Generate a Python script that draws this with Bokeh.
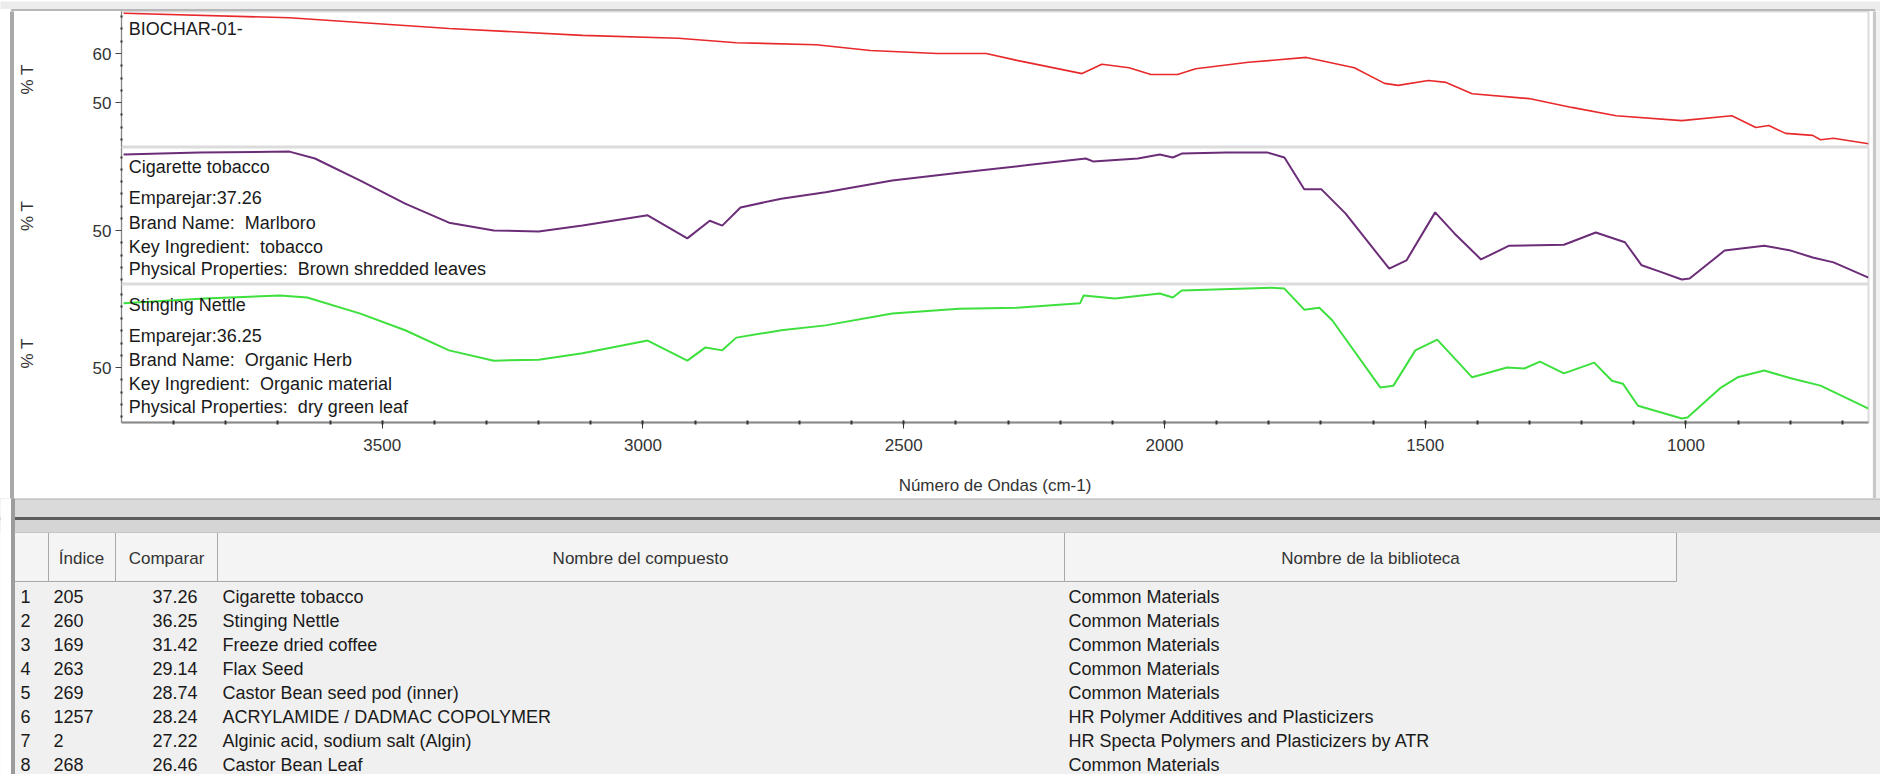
import numpy as np
from bokeh.plotting import figure
from bokeh.layouts import column, row
from bokeh.models import Range1d, FixedTicker, Label, ColumnDataSource
from bokeh.core.properties import value
from bokeh.embed import file_html
from bokeh.resources import INLINE

FONT = "Liberation Sans"
FS = "17px"
FT = "18px"
NB = "\u00a0"

# ---------------- spectra data (wavenumber cm-1, %T) ----------------
red_wn = [3996, 3678, 3372, 3116, 2932, 2821, 2668, 2564, 2436, 2342, 2283, 2158, 2120, 2068,
          2026, 1975, 1940, 1839, 1728, 1636, 1578, 1552, 1494, 1460, 1410, 1301, 1219, 1134,
          1008, 912, 866, 841, 809, 757, 742, 717, 650]
red_t = [68.2, 67.3, 65.1, 63.7, 63.1, 62.2, 61.8, 60.6, 60.0, 60.0, 58.6, 55.9, 57.8, 57.1,
         55.7, 55.7, 56.9, 58.2, 59.2, 57.1, 53.9, 53.5, 54.5, 54.1, 51.8, 50.8, 49.0, 47.3,
         46.3, 47.3, 44.9, 45.3, 43.7, 43.3, 42.4, 42.7, 41.6]

pur_wn = [3996, 3851, 3678, 3629, 3542, 3456, 3372, 3286, 3200, 3116,
          2991, 2915, 2872, 2848, 2813, 2735, 2650, 2522, 2394, 2266,
          2151, 2137, 2051, 2009, 1984, 1967, 1881, 1802, 1770, 1732,
          1699, 1653, 1569, 1536, 1481, 1444, 1393, 1339, 1234, 1173,
          1117, 1085, 1050, 1008, 993, 926, 850, 799, 757, 717, 650]
pur_t = [65.5, 65.9, 66.1, 64.7, 60.2, 55.5, 51.6, 50.0, 49.8, 51.0,
         53.1, 48.4, 52.0, 51.0, 54.7, 56.5, 57.8, 60.2, 61.8, 63.3,
         64.7, 64.1, 64.7, 65.5, 64.9, 65.7, 65.9, 65.9, 64.9, 58.4,
         58.4, 53.5, 42.2, 43.9, 53.7, 49.4, 44.1, 46.9, 47.1, 49.6,
         47.6, 42.9, 41.6, 40.0, 40.2, 45.9, 46.9, 45.9, 44.5, 43.5, 40.4]

grn_wn = [3996, 3841, 3696, 3644, 3542, 3456, 3372, 3286, 3200, 3116,
          2991, 2915, 2880, 2848, 2821, 2735, 2650, 2522, 2394, 2283,
          2162, 2155, 2095, 2009, 1984, 1967, 1795, 1770, 1732, 1703,
          1678, 1586, 1561, 1519, 1477, 1410, 1343, 1310, 1280, 1234,
          1176, 1142, 1121, 1092, 1008, 997, 933, 901, 850, 799, 742, 650]
grn_t = [63.1, 64.1, 64.7, 64.3, 61.0, 57.6, 53.5, 51.4, 51.6, 52.9,
         55.5, 51.4, 54.1, 53.5, 56.1, 57.6, 58.6, 61.0, 62.0, 62.2,
         63.1, 64.7, 64.1, 65.1, 64.3, 65.7, 66.3, 66.1, 61.8, 62.2,
         59.6, 45.9, 46.3, 53.5, 55.7, 48.0, 50.0, 49.8, 51.2, 48.8,
         51.0, 47.3, 46.7, 42.2, 39.6, 39.8, 45.9, 48.0, 49.4, 47.8, 46.3, 41.6]

x_ticks = [3500, 3000, 2500, 2000, 1500, 1000]
x_label = "Número de Ondas (cm-1)"
y_label = "% T"

panel1_text = ["BIOCHAR-01-"]
panel2_text = ["Cigarette tobacco", "Emparejar:37.26", "Brand Name:" + NB + " Marlboro",
               "Key Ingredient:" + NB + " tobacco",
               "Physical Properties:" + NB + " Brown shredded leaves"]
panel3_text = ["Stinging Nettle", "Emparejar:36.25", "Brand Name:" + NB + " Organic Herb",
               "Key Ingredient:" + NB + " Organic material",
               "Physical Properties:" + NB + " dry green leaf"]

# ---------------- table data ----------------
header = ["", "Índice", "Comparar", "Nombre del compuesto", "Nombre de la biblioteca"]
row_no = ["1", "2", "3", "4", "5", "6", "7", "8"]
indices = ["205", "260", "169", "263", "269", "1257", "2", "268"]
compare = ["37.26", "36.25", "31.42", "29.14", "28.74", "28.24", "27.22", "26.46"]
names = ["Cigarette tobacco", "Stinging Nettle", "Freeze dried coffee", "Flax Seed",
         "Castor Bean seed pod (inner)", "ACRYLAMIDE / DADMAC COPOLYMER",
         "Alginic acid, sodium salt (Algin)", "Castor Bean Leaf"]
libs = ["Common Materials", "Common Materials", "Common Materials", "Common Materials",
        "Common Materials", "HR Polymer Additives and Plasticizers",
        "HR Specta Polymers and Plasticizers by ATR", "Common Materials"]

W = 1880
LEFT = 14      # left window edge strip
RIGHT = 8      # right window edge strip
PW = W - LEFT - RIGHT   # width of the chart panels

# ---------------- chart panels ----------------
x_range = Range1d(4000, 650)


def make_panel(h, y0, y1, major, minor, bottom=0, show_x=False):
    p = figure(width=PW, height=h, x_range=x_range, y_range=Range1d(y0, y1),
               output_backend="svg", toolbar_location=None, title=None,
               x_axis_location="below" if show_x else None,
               min_border_left=104, min_border_right=PW - 104 - 1750, min_border_top=0,
               min_border_bottom=bottom)
    p.grid.visible = False
    p.background_fill_color = "white"
    p.border_fill_color = "white"
    p.outline_line_color = "#dcdcdc"
    p.outline_line_width = 2
    ya = p.yaxis[0]
    ya.ticker = FixedTicker(ticks=major, minor_ticks=minor)
    ya.axis_label = y_label
    ya.axis_label_text_font = FONT
    ya.axis_label_text_font_size = FS
    ya.axis_label_text_font_style = "normal"
    ya.axis_label_text_color = "#333333"
    ya.axis_label_standoff = 53
    ya.major_label_text_font = FONT
    ya.major_label_text_font_size = FS
    ya.major_label_text_color = "#333333"
    ya.major_label_standoff = 4
    ya.major_tick_in = 0
    ya.major_tick_out = 6
    ya.major_tick_line_color = "#444444"
    ya.minor_tick_in = 1
    ya.minor_tick_out = 1
    ya.minor_tick_line_color = "#333333"
    ya.minor_tick_line_width = 2
    ya.axis_line_color = "#888888"
    ya.axis_line_width = 1
    if show_x:
        xa = p.xaxis[0]
        xa.ticker = FixedTicker(ticks=x_ticks, minor_ticks=list(range(700, 4000, 100)))
        xa.axis_label = x_label
        xa.axis_label_text_font = FONT
        xa.axis_label_text_font_size = FS
        xa.axis_label_text_font_style = "normal"
        xa.axis_label_text_color = "#333333"
        xa.axis_label_standoff = 22
        xa.major_label_text_font = FONT
        xa.major_label_text_font_size = FS
        xa.major_label_text_color = "#333333"
        xa.major_label_standoff = 10
        xa.major_tick_in = 2
        xa.major_tick_out = 6
        xa.major_tick_line_color = "#333333"
        xa.minor_tick_in = 2
        xa.minor_tick_out = 2
        xa.minor_tick_line_color = "#333333"
        xa.minor_tick_line_width = 2
        xa.axis_line_color = "#8a8a8a"
        xa.axis_line_width = 2
    return p


def add_texts(p, lines, ys):
    for t, y in zip(lines, ys):
        p.add_layout(Label(x=3986, y=y, text=t, text_font=FONT, text_font_size=FT,
                           text_baseline="middle", text_color="#1a1a1a"))


minor1 = [v for v in np.arange(42.5, 68.6, 2.5) if v not in (50, 60)]
minor23 = [v for v in np.arange(40, 67, 2.5) if v != 50]

p1 = make_panel(136, 40.82, 68.57, [50, 60], minor1)
p1.line(red_wn, red_t, line_color="#e8292b", line_width=1.6)
add_texts(p1, panel1_text, [65.1])

p2 = make_panel(137, 38.98, 66.94, [50], minor23)
p2.line(pur_wn, pur_t, line_color="#6b2d78", line_width=2)
add_texts(p2, panel2_text, [62.9, 56.7, 51.6, 46.7, 42.2])

p3 = make_panel(214, 38.78, 66.94, [50], minor23, bottom=76, show_x=True)
add_texts(p3, panel3_text, [62.7, 56.5, 51.6, 46.7, 42.0])
p3.line(grn_wn, grn_t, line_color="#3ee03e", line_width=2)


def chrome(width, height):
    f = figure(width=width, height=height, output_backend="svg", toolbar_location=None,
               x_axis_location=None, y_axis_location=None, min_border=0,
               x_range=Range1d(0, width), y_range=Range1d(height, 0))
    f.grid.visible = False
    f.outline_line_color = None
    return f


# top window edge
top = chrome(W, 11)
top.background_fill_color = "#ececec"
top.border_fill_color = "#ececec"
top.quad(left=[10], right=[W - 6], top=[8], bottom=[11], color="#b8b8b8")
top.quad(left=[0], right=[10], top=[8], bottom=[11], color="#ffffff")

# left and right window edges next to the chart
strip = chrome(LEFT, 487)
strip.background_fill_color = "white"
strip.border_fill_color = "white"
strip.quad(left=[10], right=[14], top=[0], bottom=[487], color="#a9a9a9")

rstrip = chrome(RIGHT, 487)
rstrip.background_fill_color = "#f2f2f2"
rstrip.border_fill_color = "#f2f2f2"
rstrip.quad(left=[1], right=[3], top=[0], bottom=[487], color="#c8c8c8")

# ---------------- table ----------------
t = chrome(W, 276)
t.background_fill_color = "#f0f0f0"
t.border_fill_color = "#f0f0f0"

t.quad(left=[0], right=[W], top=[0], bottom=[2], color="#c4c4c4")
t.quad(left=[0], right=[W], top=[2], bottom=[19], color="#dadada")
t.quad(left=[0], right=[W], top=[19], bottom=[22], color="#5c5c5c")
t.quad(left=[0], right=[W], top=[22], bottom=[34], color="#d5d5d5")
t.quad(left=[14], right=[1676], top=[34], bottom=[83], color="#f4f4f4")
t.quad(left=[10], right=[14], top=[0], bottom=[276], color="#9c9c9c")
t.quad(left=[0], right=[10], top=[0], bottom=[276], color="#ffffff")

col_edges = [48, 115, 217, 1064, 1676]
t.segment(x0=col_edges, y0=[34] * 5, x1=col_edges, y1=[83] * 5, line_color="#a8a8a8", line_width=1)
t.segment(x0=[14], y0=[83], x1=[1676], y1=[83], line_color="#a8a8a8", line_width=1)
t.segment(x0=[14], y0=[34], x1=[1676], y1=[34], line_color="#c4c4c4", line_width=1)

hdr_x = [31, 81, 166, 640, 1370]
t.text(x=hdr_x, y=[60] * 5, text=header, text_font=value(FONT), text_font_size=value(FS),
       text_align="center", text_baseline="middle", text_color="#333333")

row_y = [98 + 24 * i for i in range(len(row_no))]
src = ColumnDataSource(dict(y=row_y, no=row_no, idx=indices, cmp=compare, name=names, lib=libs))
common = dict(source=src, y="y", text_font=value(FONT), text_font_size=value(FT),
              text_baseline="middle", text_color="#1a1a1a")
t.text(x=20, text="no", text_align="left", **common)
t.text(x=53, text="idx", text_align="left", **common)
t.text(x=197, text="cmp", text_align="right", **common)
t.text(x=222, text="name", text_align="left", **common)
t.text(x=1068, text="lib", text_align="left", **common)

layout = column(top, row(strip, column(p1, p2, p3), rstrip), t)
open("out.html", "w").write(file_html(layout, INLINE))
